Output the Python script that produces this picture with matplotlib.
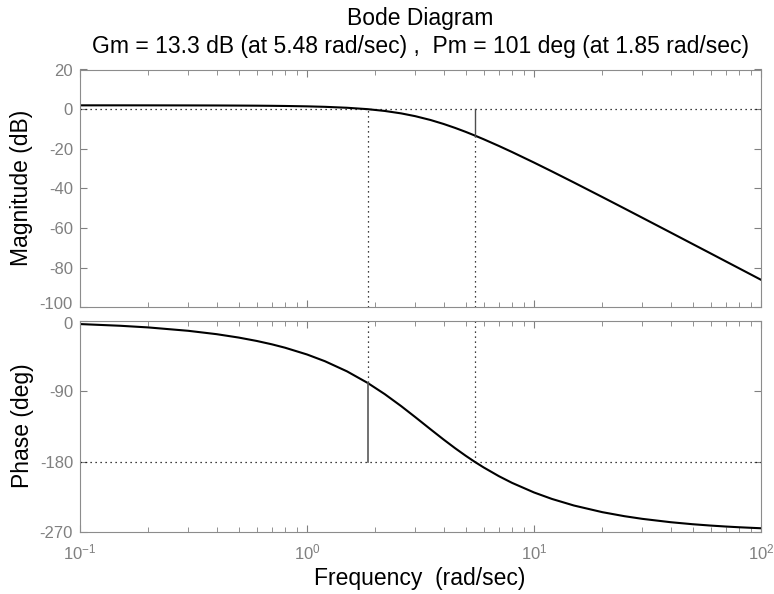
import matplotlib
matplotlib.use("Agg")
import matplotlib.pyplot as plt

plt.rcParams['font.family'] = ['Liberation Sans', 'DejaVu Sans']
plt.rcParams['axes.unicode_minus'] = False

# values (rad/sec, dB, deg)
freq = [0.1, 0.15, 0.2, 0.3, 0.4, 0.5, 0.6, 0.7, 0.8, 1.0, 1.2, 1.5, 1.85,
        2.2, 2.6, 3.0, 3.5, 4.0, 4.5, 5.0, 5.48, 6.0, 7.0, 8.0, 10, 12, 15,
        20, 25, 30, 40, 50, 60, 70, 80, 100]
mag_db = [1.93, 1.93, 1.92, 1.89, 1.86, 1.81, 1.76, 1.69, 1.61, 1.42, 1.18,
          0.71, 0.0, -0.90, -2.13, -3.54, -5.46, -7.47, -9.48, -11.44, -13.27,
          -15.16, -18.54, -21.60, -26.92, -31.40, -36.99, -44.31, -50.04,
          -54.75, -62.20, -68.00, -72.73, -76.75, -80.22, -86.03]
phase_deg = [-4.30, -6.45, -8.59, -12.90, -17.20, -21.51, -25.82, -30.13,
             -34.45, -43.09, -51.73, -64.62, -79.40, -93.68, -109.02, -123.06,
             -138.52, -151.70, -162.86, -172.30, -180.04, -187.22, -198.35,
             -206.90, -219.15, -227.45, -235.84, -244.31, -249.42, -252.84,
             -257.12, -259.70, -261.41, -262.64, -263.56, -264.84]

gm_db, gm_freq = 13.3, 5.48
pm_deg, pm_freq = 101, 1.85

mag_ticks = [20, 0, -20, -40, -60, -80, -100]
phase_ticks = [0, -90, -180, -270]

W, H = 774, 594
fig = plt.figure(figsize=(W / 100, H / 100), dpi=100)
ax1 = fig.add_axes([80 / W, 1 - 307.5 / H, 681 / W, 238 / H])
ax2 = fig.add_axes([80 / W, 1 - 532.3 / H, 681 / W, 211.6 / H])

ax1.plot(freq, mag_db, color='k', lw=1.5)
ax2.plot(freq, phase_deg, color='k', lw=1.5)

# margin markers
dot = dict(color='k', ls=(0, (1, 3)), lw=0.9)
ax1.axhline(0, **dot)
ax1.plot([pm_freq, pm_freq], [-100, 0], **dot)
ax1.plot([gm_freq, gm_freq], [-100, -gm_db], **dot)
ax1.plot([gm_freq, gm_freq], [0, -gm_db], color='0.3', lw=1)

ax2.axhline(-180, **dot)
ax2.plot([pm_freq, pm_freq], [0, pm_deg - 180], **dot)
ax2.plot([pm_freq, pm_freq], [pm_deg - 180, -180], color='0.35', lw=1.2)
ax2.plot([gm_freq, gm_freq], [0, -180], **dot)

for ax in (ax1, ax2):
    ax.set_xscale('log')
    ax.set_xlim(0.1, 100)
    ax.tick_params(which='both', direction='in', top=True, right=True,
                   colors='0.5', labelsize=12, pad=5)
    ax.tick_params(which='major', length=5)
    ax.tick_params(which='minor', length=3.5)
    for s in ax.spines.values():
        s.set_color('0.55')
ax2.tick_params(axis='x', pad=7)

ax1.set_ylim(-100, 20)
ax1.set_yticks(mag_ticks, labels=[str(t) if t != -100 else '' for t in mag_ticks])
ax1.tick_params(labelbottom=False)
ax2.set_ylim(-270, 0)
ax2.set_yticks(phase_ticks, labels=[str(t) if t != 0 else '' for t in phase_ticks])

# the two labels where the panels meet, nudged apart slightly
ax1.annotate(str(mag_ticks[-1]), xy=(0, mag_ticks[-1]),
             xycoords=ax1.get_yaxis_transform(), xytext=(-7, 2.5),
             textcoords='offset pixels', ha='right', va='center',
             fontsize=12, color='0.5')
ax2.annotate(str(phase_ticks[0]), xy=(0, phase_ticks[0]),
             xycoords=ax2.get_yaxis_transform(), xytext=(-7, -3.5),
             textcoords='offset pixels', ha='right', va='center',
             fontsize=12, color='0.5')

fig.text(420 / W, 1 - 18 / H, 'Bode Diagram', ha='center', va='center', fontsize=16.5)
fig.text(420 / W, 1 - 46 / H,
         'Gm = %.1f dB (at %.2f rad/sec) ,  Pm = %d deg (at %.2f rad/sec)'
         % (gm_db, gm_freq, pm_deg, pm_freq),
         ha='center', va='center', fontsize=16.5)
fig.text(22 / W, 1 - 188 / H, 'Magnitude (dB)', rotation=90, ha='center',
         va='center', fontsize=16.5)
fig.text(22 / W, 1 - 426 / H, 'Phase (deg)', rotation=90, ha='center',
         va='center', fontsize=16.5)
fig.text(420 / W, 1 - 579 / H, 'Frequency  (rad/sec)', ha='center',
         va='center', fontsize=16.5)

fig.savefig('out.png', dpi=100)
